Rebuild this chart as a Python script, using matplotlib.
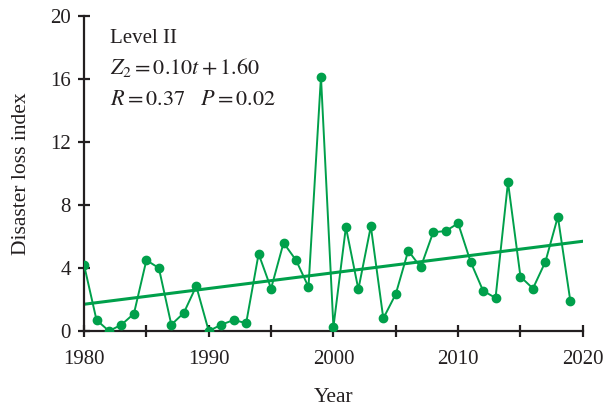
import matplotlib
matplotlib.use('Agg')
import matplotlib.pyplot as plt
import numpy as np

years = list(range(1980, 2020))
loss = [4.2, 0.7, 0.0, 0.4, 1.1, 4.5, 4.0, 0.4, 1.15, 2.85,
        0.0, 0.4, 0.7, 0.5, 4.9, 2.7, 5.6, 4.5, 2.8, 16.15,
        0.25, 6.6, 2.65, 6.65, 0.8, 2.35, 5.1, 4.05, 6.27, 6.35,
        6.84, 4.4, 2.56, 2.1, 9.45, 3.45, 2.7, 4.4, 7.26, 1.9]
trend_years = [1980, 2020]
slope = 0.10
intercept = 1.60

plt.rcParams['font.family'] = 'Liberation Serif'
plt.rcParams['mathtext.fontset'] = 'stix'

green = '#00a04b'
dark = '#231f20'

fig = plt.figure(figsize=(6.09, 4.13), dpi=100)
ax = fig.add_axes([0.138, 0.1985, 0.819, 0.7625])

ax.plot(years, loss, color=green, lw=1.4, marker='o', markersize=6, zorder=3)
ty = np.array(trend_years)
ax.plot(ty, slope * (ty - 1979) + intercept, color=green, lw=2.2, zorder=2)

ax.set_xlim(1980, 2020)
ax.set_ylim(0, 20)
ax.set_xticks([1980, 1990, 2000, 2010, 2020])
ax.set_xticks([1985, 1995, 2005, 2015], minor=True)
ax.set_yticks([0, 4, 8, 12, 16, 20])
ax.spines['top'].set_visible(False)
ax.spines['right'].set_visible(False)
for s in ['left', 'bottom']:
    ax.spines[s].set_linewidth(1.6)
    ax.spines[s].set_color(dark)
ax.tick_params(which='both', direction='inout', length=9, width=1.6, color=dark,
               labelsize=15, labelcolor=dark)
ax.tick_params(axis='x', pad=9)
ax.tick_params(axis='y', pad=5)
for sp in ax.spines.values():
    sp.set_clip_on(False)

ax.set_xlabel('Year', fontsize=15.5, color=dark, labelpad=14)
ax.set_ylabel('Disaster loss index', fontsize=15.5, color=dark, labelpad=14)

ax.text(0.052, 0.915, 'Level II', transform=ax.transAxes, fontsize=15, color=dark)
ax.text(0.052, 0.815, r'$Z_2 = 0.10t + 1.60$', transform=ax.transAxes, fontsize=16, color=dark)
ax.text(0.052, 0.718, r'$R = 0.37\ \ \ P = 0.02$', transform=ax.transAxes, fontsize=16, color=dark)

fig.savefig('out.png', dpi=100)
